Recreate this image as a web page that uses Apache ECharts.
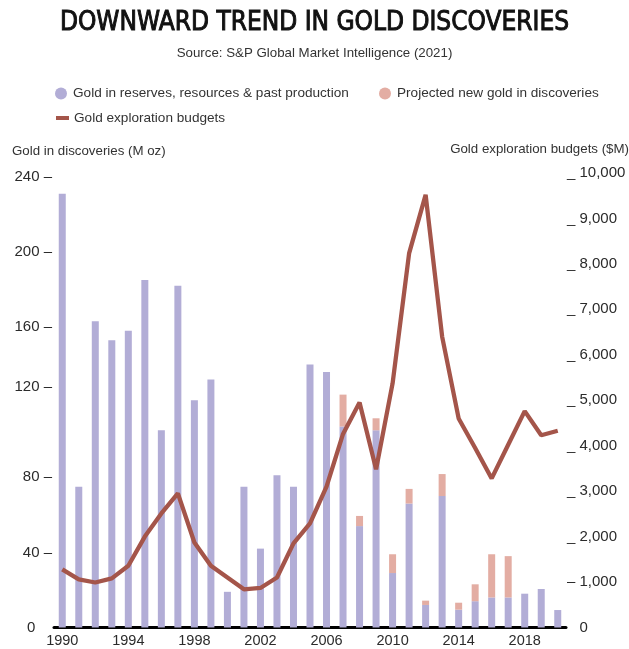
<!DOCTYPE html>
<html>
<head>
<meta charset="utf-8">
<script src="https://cdn.jsdelivr.net/npm/echarts@6/dist/echarts.min.js"></script>
<style>
  html, body { margin: 0; padding: 0; background: #fff; }
  #main { width: 629px; height: 649px; }
</style>
</head>
<body>
<div id="main"></div>
<script>
// data
var years = [];
for (var y = 1990; y <= 2020; y++) years.push(String(y));

var reserves = [231, 75, 163, 153, 158, 185, 105, 182, 121, 132,
  19, 75, 42, 81, 75, 140, 136, 107, 54, 105,
  29, 66, 12, 70, 9.5, 14, 16, 16, 18, 20.5, 9.3];

var projected = [0, 0, 0, 0, 0, 0, 0, 0, 0, 0,
  0, 0, 0, 0, 0, 0, 0, 17, 5.4, 6.4,
  10, 7.8, 2.3, 11.7, 3.7, 9, 23, 22, 0, 0, 0];

var budgets = [1280, 1060, 990, 1080, 1360, 2000, 2510, 2950, 1870, 1360,
  1100, 840, 870, 1100, 1850, 2290, 3100, 4260, 4950, 3480,
  5370, 8230, 9520, 6400, 4600, 3950, 3280, 4020, 4760, 4230, 4330];

var leftTicks = [0, 40, 80, 120, 160, 200, 240];

var font = 'Liberation Sans';
var txt = '#2b2b2b';

var chart = echarts.init(document.getElementById('main'));

chart.setOption({
  animation: false,
  backgroundColor: '#fff',
  title: [
    {
      text: 'DOWNWARD TREND IN GOLD DISCOVERIES',
      left: 'center', top: 10, padding: 0,
      textStyle: {
        fontFamily: "'DejaVu Sans Condensed', 'DejaVu Sans', sans-serif", fontSize: 26, fontWeight: 'normal', color: '#111',
        textBorderColor: '#111', textBorderWidth: 0.9
      }
    },
    {
      text: 'Source: S&P Global Market Intelligence (2021)',
      left: 'center', top: 47, padding: 0,
      textStyle: { fontFamily: font, fontSize: 13.3, fontWeight: 'normal', color: '#333' }
    },
    {
      text: 'Gold in discoveries (M oz)',
      left: 12, top: 145, padding: 0,
      textStyle: { fontFamily: font, fontSize: 13.3, fontWeight: 'normal', color: '#333' }
    },
    {
      text: 'Gold exploration budgets ($M)',
      right: 0, top: 143, padding: 0,
      textStyle: { fontFamily: font, fontSize: 13.3, fontWeight: 'normal', color: '#333' }
    }
  ],
  legend: [
    {
      data: ['Gold in reserves, resources & past production'],
      left: 55, top: 86.5, padding: 0, icon: 'circle', itemWidth: 14, itemHeight: 12,
      textStyle: { fontFamily: font, fontSize: 13.6, color: '#333' }
    },
    {
      data: ['Projected new gold in discoveries'],
      left: 379, top: 86.5, padding: 0, icon: 'circle', itemWidth: 14, itemHeight: 12,
      textStyle: { fontFamily: font, fontSize: 13.6, color: '#333' }
    },
    {
      data: ['Gold exploration budgets'],
      left: 56, top: 111, padding: 0, icon: 'rect', itemWidth: 13, itemHeight: 4,
      textStyle: { fontFamily: font, fontSize: 13.6, color: '#333' }
    }
  ],
  grid: { left: 54, right: 63, top: 173, bottom: 21.5 },
  xAxis: {
    type: 'category',
    data: years,
    axisLine: { lineStyle: { color: '#000', width: 3 } },
    axisTick: { show: false },
    axisLabel: {
      interval: 3, margin: 6,
      fontFamily: font, fontSize: 14.5, color: txt
    }
  },
  yAxis: [
    {
      type: 'value', min: 0, max: 242, interval: 40,
      axisLine: { show: false }, axisTick: { show: false }, splitLine: { show: false },
      axisLabel: {
        margin: 2, fontFamily: font, fontSize: 15, color: txt,
        formatter: function (v) {
          if (leftTicks.indexOf(v) < 0) return '';
          if (v === 0) return String(v) + '    ';
          if (v === 120) return '{up|120 \u2013}';
          return v + ' \u2013';
        },
        rich: {
          up: { fontFamily: font, fontSize: 15, color: txt, padding: [0, 0, 31, 0] }
        }
      }
    },
    {
      type: 'value', min: 0, max: 10000, interval: 1000, position: 'right',
      axisLine: { show: false }, axisTick: { show: false }, splitLine: { show: false },
      axisLabel: {
        margin: 1, fontFamily: font, fontSize: 15, color: txt,
        formatter: function (v) {
          var s = v.toLocaleString('en-US');
          if (v === 0) return '{z|0}';
          if (v === 1000) return '\u2013 ' + s;
          return '_ ' + s;
        },
        rich: {
          z: { fontFamily: font, fontSize: 15, color: txt, padding: [0, 0, 0, 12.5] }
        }
      }
    }
  ],
  series: [
    {
      name: 'Gold in reserves, resources & past production',
      type: 'bar', stack: 'gold', barWidth: 7,
      itemStyle: { color: '#b2add6' },
      data: reserves
    },
    {
      name: 'Projected new gold in discoveries',
      type: 'bar', stack: 'gold', barWidth: 7,
      itemStyle: { color: '#e3ada3' },
      data: projected
    },
    {
      name: 'Gold exploration budgets',
      type: 'line', yAxisIndex: 1,
      symbol: 'none',
      lineStyle: { color: '#a4554a', width: 4.3 },
      itemStyle: { color: '#a4554a' },
      data: budgets
    }
  ]
});
</script>
</body>
</html>
